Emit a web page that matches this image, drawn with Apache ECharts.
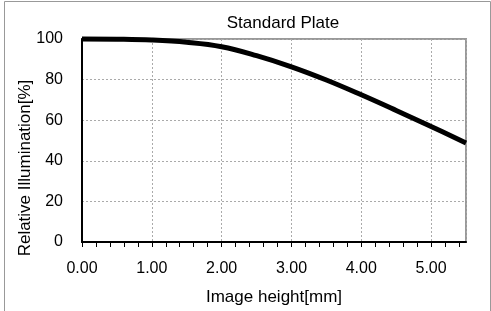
<!DOCTYPE html>
<html>
<head>
<meta charset="utf-8">
<script src="https://cdn.jsdelivr.net/npm/echarts@6/dist/echarts.min.js"></script>
<style>
  html, body { margin: 0; padding: 0; background: #fff; }
  #chart { width: 491px; height: 311px; }
</style>
</head>
<body>
<div id="chart"></div>
<script>
// image height [mm] vs relative illumination [%]
var heights = [0, 0.5, 1.0, 1.5, 2.0, 2.5, 3.0, 3.5, 4.0, 4.5, 5.0, 5.5];
var illum = [100, 99.9, 99.5, 98.4, 96.2, 91.8, 86.3, 79.8, 72.5, 64.8, 56.9, 48.8];
var xTickMarks = [0, 0.2, 0.4, 0.6, 0.8, 1, 1.2, 1.4, 1.6, 1.8, 2, 2.2, 2.4, 2.6, 2.8,
  3, 3.2, 3.4, 3.6, 3.8, 4, 4.2, 4.4, 4.6, 4.8, 5, 5.2, 5.4];
var yTicks = [0, 20, 40, 60, 80, 100];

var font = '"Liberation Sans", Arial, sans-serif';
var chart = echarts.init(document.getElementById('chart'));

var option = {
  animation: false,
  title: {
    text: 'Standard Plate',
    left: 283,
    top: 15,
    padding: 0,
    textAlign: 'center',
    textStyle: { fontFamily: font, fontSize: 17, fontWeight: 'normal', color: '#000' }
  },
  grid: {
    left: 82, right: 25, top: 39, bottom: 68,
    show: true, borderColor: '#999', borderWidth: 2, backgroundColor: '#fff'
  },
  graphic: [
    {
      type: 'rect',
      shape: { x: 4.5, y: 1.5, width: 486, height: 340 },
      style: { fill: 'none', stroke: '#999', lineWidth: 1 },
      silent: true
    },
    {
      type: 'text',
      x: 25, y: 168,
      rotation: Math.PI / 2,
      style: {
        text: 'Relative Illumination[%]',
        fontFamily: font, fontSize: 17, fill: '#000',
        align: 'center', verticalAlign: 'middle'
      }
    }
  ],
  xAxis: [
    {
      type: 'value',
      min: 0, max: 5.5, interval: 1,
      name: 'Image height[mm]',
      nameLocation: 'middle',
      nameGap: 47,
      nameTextStyle: { fontFamily: font, fontSize: 17, color: '#000' },
      axisLine: { show: true, lineStyle: { color: '#000', width: 2 } },
      axisTick: { show: false },
      axisLabel: {
        showMaxLabel: false,
        margin: 19,
        fontFamily: font, fontSize: 16, color: '#000',
        formatter: function (v) { return v.toFixed(2); }
      },
      splitLine: { show: true, lineStyle: { color: '#aaa', type: [2, 2], width: 1 } }
    },
    {
      type: 'value',
      position: 'bottom',
      min: 0, max: 5.5,
      axisLine: { show: false },
      axisTick: { show: true, length: 5, customValues: xTickMarks, lineStyle: { color: '#000', width: 1 } },
      axisLabel: { show: false },
      splitLine: { show: false }
    }
  ],
  yAxis: {
    type: 'value',
    min: yTicks[0], max: yTicks[yTicks.length - 1], interval: 20,
    axisLine: { show: true, lineStyle: { color: '#000', width: 2 } },
    axisTick: { show: false },
    axisLabel: { margin: 19, fontFamily: font, fontSize: 16, color: '#000' },
    splitLine: { show: true, lineStyle: { color: '#aaa', type: [2, 2], width: 1 } }
  },
  series: [
    {
      type: 'line',
      xAxisIndex: 0,
      data: heights.map(function (h, i) { return [h, illum[i]]; }),
      smooth: 0.4,
      showSymbol: false,
      clip: false,
      lineStyle: { color: '#000', width: 5 }
    }
  ]
};
chart.setOption(option);
</script>
</body>
</html>
